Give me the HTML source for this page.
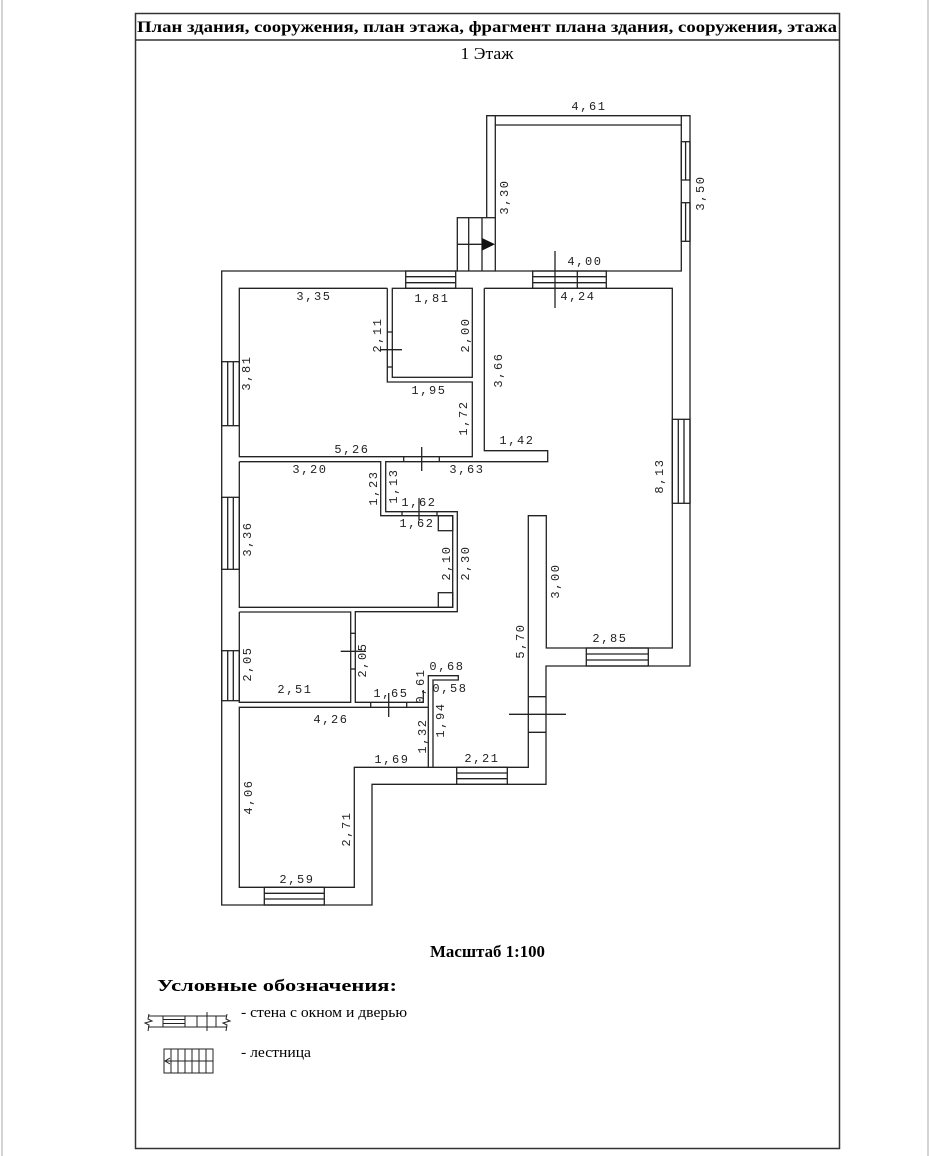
<!DOCTYPE html>
<html><head><meta charset="utf-8"><style>
html,body{margin:0;padding:0;background:#fff;}
svg{display:block;}
.d{font-family:"Liberation Mono",monospace;font-size:12px;letter-spacing:1.6px;fill:#222;}
.w{fill:none;stroke:#222;stroke-width:1.3;}
</style></head><body>
<svg width="931" height="1156" viewBox="0 0 931 1156" xmlns="http://www.w3.org/2000/svg">
<line x1="2" y1="0" x2="2" y2="1156" stroke="#aaa" stroke-width="1"/>
<line x1="928" y1="0" x2="928" y2="1156" stroke="#aaa" stroke-width="1"/>
<rect x="135.5" y="13.5" width="704" height="1135" fill="none" stroke="#333" stroke-width="1.5"/>
<line x1="135" y1="40" x2="840" y2="40" stroke="#333" stroke-width="1.5"/>
<text x="487" y="32" text-anchor="middle" font-family="Liberation Serif,serif" font-weight="bold" font-size="16" textLength="700" lengthAdjust="spacingAndGlyphs">План здания, сооружения, план этажа, фрагмент плана здания, сооружения, этажа</text>
<text x="487" y="59" text-anchor="middle" font-family="Liberation Serif,serif" font-size="17" textLength="53" lengthAdjust="spacingAndGlyphs">1 Этаж</text>

<g class="w">
<polyline points="486.7,217.7 486.7,115.7 690,115.7 690,666 546,666 546,784.3 372,784.3 372,905 221.7,905 221.7,271 457.3,271"/>
<polyline points="495.3,217.7 495.3,125 681.3,125 681.3,271 495.3,271"/>
<line x1="495.3" y1="115.7" x2="495.3" y2="125"/>
<line x1="681.3" y1="115.7" x2="681.3" y2="125"/>
<rect x="457.3" y="217.7" width="38" height="53.3"/>
<line x1="468.7" y1="217.7" x2="468.7" y2="271"/>
<line x1="482" y1="217.7" x2="482" y2="271"/>
<line x1="457.3" y1="244.3" x2="482" y2="244.3"/>
<polyline points="387.3,288.3 239.3,288.3 239.3,456.7 472.3,456.7 472.3,382 387.3,382 387.3,288.3"/>
<rect x="392.3" y="288.3" width="80" height="89"/>
<line x1="387.3" y1="332" x2="392.3" y2="332"/>
<line x1="387.3" y1="367" x2="392.3" y2="367"/>
<line x1="380" y1="349.7" x2="402" y2="349.7"/>
<polyline points="484.3,288.3 672.3,288.3 672.3,648 546.3,648 546.3,515.7 528.3,515.7 528.3,767.3 354.3,767.3 354.3,887.3 239.3,887.3 239.3,707.3 428.3,707.3"/>
<polyline points="484.3,288.3 484.3,450.7 547.7,450.7 547.7,461.7 385.7,461.7 385.7,511.7 457.3,511.7 457.3,611.7 355.3,611.7 355.3,702.3 423.3,702.3 423.3,690"/>
<polyline points="239.3,461.7 380.7,461.7 380.7,515.7 452.7,515.7 452.7,607.3 239.3,607.3 239.3,461.7"/>
<rect x="438.3" y="515.7" width="14.4" height="15"/>
<rect x="438.3" y="592.7" width="14.4" height="14.6"/>
<line x1="403.7" y1="456.7" x2="403.7" y2="461.7"/>
<line x1="439.3" y1="456.7" x2="439.3" y2="461.7"/>
<line x1="421.7" y1="447" x2="421.7" y2="471"/>
<line x1="402" y1="511.7" x2="402" y2="515.7"/>
<line x1="437" y1="511.7" x2="437" y2="515.7"/>
<line x1="419" y1="498" x2="419" y2="520"/>
<polyline points="239.3,612 350.7,612 350.7,702.3 239.3,702.3 239.3,612"/>
<line x1="350.7" y1="633.3" x2="355.3" y2="633.3"/>
<line x1="350.7" y1="669" x2="355.3" y2="669"/>
<line x1="340.7" y1="651.3" x2="366" y2="651.3"/>
<polyline points="428.3,767.3 428.3,675.7 458.3,675.7 458.3,680 433,680 433,767.3"/>
<line x1="370.7" y1="702.3" x2="370.7" y2="707.3"/>
<line x1="406.7" y1="702.3" x2="406.7" y2="707.3"/>
<line x1="388.7" y1="693" x2="388.7" y2="717"/>
<line x1="528.3" y1="696.7" x2="546.3" y2="696.7"/>
<line x1="528.3" y1="732.3" x2="546.3" y2="732.3"/>
<line x1="509" y1="714.3" x2="566" y2="714.3"/>
<line x1="555" y1="251" x2="555" y2="308"/>
<rect x="405.7" y="271" width="50" height="17.3"/>
<line x1="405.7" y1="276.7" x2="455.7" y2="276.7"/><line x1="405.7" y1="282.7" x2="455.7" y2="282.7"/>
<rect x="532.7" y="271" width="73.6" height="17.3"/>
<line x1="532.7" y1="276.7" x2="606.3" y2="276.7"/><line x1="532.7" y1="282.7" x2="606.3" y2="282.7"/>
<line x1="577.3" y1="271" x2="577.3" y2="288.3"/>
<rect x="221.7" y="361.7" width="17.6" height="64"/>
<line x1="227.7" y1="361.7" x2="227.7" y2="425.7"/><line x1="233.3" y1="361.7" x2="233.3" y2="425.7"/>
<rect x="221.7" y="497.3" width="17.6" height="72"/>
<line x1="227.7" y1="497.3" x2="227.7" y2="569.3"/><line x1="233.3" y1="497.3" x2="233.3" y2="569.3"/>
<rect x="221.7" y="650.7" width="17.6" height="50"/>
<line x1="227.7" y1="650.7" x2="227.7" y2="700.7"/><line x1="233.3" y1="650.7" x2="233.3" y2="700.7"/>
<rect x="264.3" y="887.3" width="60" height="17.7"/>
<line x1="264.3" y1="893.3" x2="324.3" y2="893.3"/><line x1="264.3" y1="899" x2="324.3" y2="899"/>
<rect x="456.7" y="767.3" width="50.6" height="17"/>
<line x1="456.7" y1="773" x2="507.3" y2="773"/><line x1="456.7" y1="778.7" x2="507.3" y2="778.7"/>
<rect x="586.3" y="648" width="62" height="18"/>
<line x1="586.3" y1="654" x2="648.3" y2="654"/><line x1="586.3" y1="660" x2="648.3" y2="660"/>
<rect x="672.3" y="419.3" width="17.7" height="84"/>
<line x1="678.3" y1="419.3" x2="678.3" y2="503.3"/><line x1="684" y1="419.3" x2="684" y2="503.3"/>
<rect x="681.3" y="141.7" width="8.7" height="38.3"/>
<rect x="681.3" y="202.7" width="8.7" height="38.6"/>
<line x1="685.6" y1="141.7" x2="685.6" y2="180"/><line x1="685.6" y1="202.7" x2="685.6" y2="241.3"/>
</g>
<polygon points="482,238 495,244.3 482,250.6" fill="#111"/>

<g class="d" text-anchor="middle">
<text x="589" y="110">4,61</text>
<text x="585" y="265">4,00</text>
<text x="578" y="300">4,24</text>
<text x="432" y="302">1,81</text>
<text x="314" y="300">3,35</text>
<text x="429" y="394">1,95</text>
<text x="517" y="444">1,42</text>
<text x="352" y="453">5,26</text>
<text x="310" y="473">3,20</text>
<text x="467" y="473">3,63</text>
<text x="419" y="506">1,62</text>
<text x="417" y="527">1,62</text>
<text x="610" y="642">2,85</text>
<text x="447" y="670">0,68</text>
<text x="450" y="692">0,58</text>
<text x="295" y="693">2,51</text>
<text x="391" y="697">1,65</text>
<text x="331" y="723">4,26</text>
<text x="392" y="763">1,69</text>
<text x="482" y="762">2,21</text>
<text x="297" y="883">2,59</text>
<text transform="translate(508,197) rotate(-90)">3,30</text>
<text transform="translate(704,193) rotate(-90)">3,50</text>
<text transform="translate(381,335) rotate(-90)">2,11</text>
<text transform="translate(469,335) rotate(-90)">2,00</text>
<text transform="translate(250,373) rotate(-90)">3,81</text>
<text transform="translate(502,370) rotate(-90)">3,66</text>
<text transform="translate(467,418) rotate(-90)">1,72</text>
<text transform="translate(377,488) rotate(-90)">1,23</text>
<text transform="translate(397,486) rotate(-90)">1,13</text>
<text transform="translate(663,476) rotate(-90)">8,13</text>
<text transform="translate(251,539) rotate(-90)">3,36</text>
<text transform="translate(450,563) rotate(-90)">2,10</text>
<text transform="translate(469,563) rotate(-90)">2,30</text>
<text transform="translate(559,581) rotate(-90)">3,00</text>
<text transform="translate(251,664) rotate(-90)">2,05</text>
<text transform="translate(366,660) rotate(-90)">2,05</text>
<text transform="translate(524,641) rotate(-90)">5,70</text>
<text transform="translate(424,686) rotate(-90)">0,61</text>
<text transform="translate(444,720) rotate(-90)">1,94</text>
<text transform="translate(426,736) rotate(-90)">1,32</text>
<text transform="translate(252,797) rotate(-90)">4,06</text>
<text transform="translate(350,829) rotate(-90)">2,71</text>
</g>

<text x="430" y="957" font-family="Liberation Serif,serif" font-weight="bold" font-size="17" textLength="115" lengthAdjust="spacingAndGlyphs">Масштаб 1:100</text>
<text x="157" y="991" font-family="Liberation Serif,serif" font-weight="bold" font-size="17" textLength="240" lengthAdjust="spacingAndGlyphs">Условные обозначения:</text>
<text x="241" y="1017" font-family="Liberation Serif,serif" font-size="15" textLength="166" lengthAdjust="spacingAndGlyphs">- стена с окном и дверью</text>
<text x="241" y="1057" font-family="Liberation Serif,serif" font-size="15" textLength="70" lengthAdjust="spacingAndGlyphs">- лестница</text>
<g fill="none" stroke="#222" stroke-width="1">
<line x1="148" y1="1016" x2="227" y2="1016"/>
<line x1="148" y1="1027" x2="227" y2="1027"/>
<polyline points="149,1014 148,1019 152,1021 145,1023 149,1025 148,1031"/>
<polyline points="227,1014 226,1019 230,1021 223,1023 227,1025 226,1031"/>
<rect x="163" y="1016" width="22" height="11"/>
<line x1="163" y1="1019.5" x2="185" y2="1019.5"/><line x1="163" y1="1023.5" x2="185" y2="1023.5"/>
<line x1="197" y1="1016" x2="197" y2="1027"/>
<line x1="207" y1="1012" x2="207" y2="1031"/>
<line x1="216" y1="1016" x2="216" y2="1027"/>
<rect x="164" y="1049" width="49" height="24"/>
<line x1="164" y1="1061" x2="213" y2="1061"/>
<line x1="171" y1="1049" x2="171" y2="1073"/><line x1="178" y1="1049" x2="178" y2="1073"/>
<line x1="185" y1="1049" x2="185" y2="1073"/><line x1="192" y1="1049" x2="192" y2="1073"/>
<line x1="199" y1="1049" x2="199" y2="1073"/><line x1="206" y1="1049" x2="206" y2="1073"/>
<polyline points="170,1058 165,1061 170,1064"/>
</g>
</svg>
</body></html>
